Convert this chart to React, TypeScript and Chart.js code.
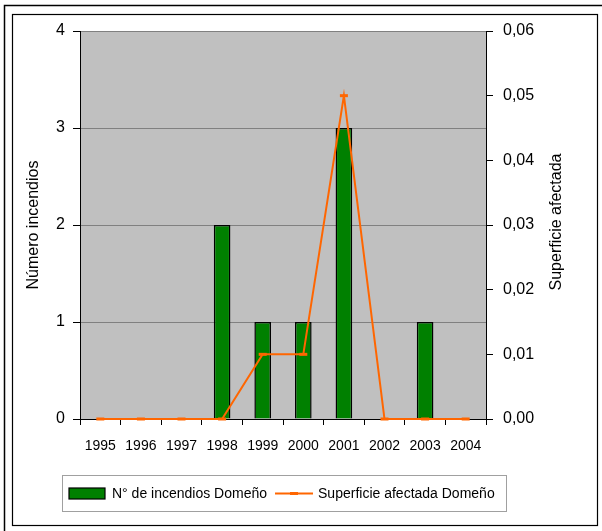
import React, { useEffect, useRef } from 'react';
import { Chart, registerables } from 'chart.js';

Chart.register(...registerables);

const years = ['1995', '1996', '1997', '1998', '1999', '2000', '2001', '2002', '2003', '2004'];
const fireCounts = [0, 0, 0, 2, 1, 1, 3, 0, 1, 0];
const burnedArea = [0, 0, 0, 0, 0.01, 0.01, 0.05, 0, 0, 0];
const leftMax = 4;
const leftStep = 1;
const rightMax = 0.06;
const rightStep = 0.01;
const barLabel = 'N° de incendios Domeño';
const lineLabel = 'Superficie afectada Domeño';
const leftTitle = 'Número incendios';
const rightTitle = 'Superficie afectada';

const FONT = '"Liberation Sans", Arial, sans-serif';
const GREEN = '#008000';
const ORANGE = '#FF6600';

const framePlugin = {
  id: 'framePlugin',
  beforeDraw(chart: any) {
    const { ctx, chartArea } = chart;
    ctx.save();
    ctx.fillStyle = '#FFFFFF';
    ctx.fillRect(0, 0, chart.width, chart.height);
    ctx.fillStyle = '#C0C0C0';
    ctx.fillRect(chartArea.left, chartArea.top, chartArea.right - chartArea.left, chartArea.bottom - chartArea.top);
    ctx.restore();
  },
  afterDraw(chart: any) {
    const { ctx, chartArea } = chart;
    ctx.save();
    // outer frame
    ctx.strokeStyle = '#000';
    ctx.lineWidth = 1.5;
    ctx.beginPath();
    ctx.moveTo(4.5, chart.height);
    ctx.lineTo(4.5, 5.5);
    ctx.lineTo(chart.width, 5.5);
    ctx.stroke();
    // inner frame
    ctx.lineWidth = 1.2;
    ctx.strokeRect(12.5, 14.5, 585, 511);

    // right axis title (reads upward)
    ctx.fillStyle = '#000';
    ctx.font = '16px ' + FONT;
    ctx.textAlign = 'center';
    ctx.textBaseline = 'middle';
    ctx.translate(557, (chartArea.top + chartArea.bottom) / 2 - 3);
    ctx.rotate(-Math.PI / 2);
    ctx.fillText(rightTitle, 0, 0);
    ctx.restore();

    // legend
    const ds = chart.data.datasets;
    ctx.save();
    const boxLeft = chartArea.left - 17.5;
    const boxTop = chartArea.bottom + 56.5;
    const boxW = 444;
    const boxH = 36;
    ctx.strokeStyle = '#A0A0A0';
    ctx.lineWidth = 1;
    ctx.strokeRect(boxLeft, boxTop, boxW, boxH);
    const cy = boxTop + boxH / 2;
    ctx.font = '14px ' + FONT;
    ctx.textBaseline = 'middle';
    ctx.textAlign = 'left';
    ctx.fillStyle = '#000';
    // bar swatch
    let x = boxLeft + 6.5;
    ctx.fillStyle = ds[0].backgroundColor;
    ctx.fillRect(x, cy - 5.5, 36, 11);
    ctx.strokeStyle = '#000';
    ctx.lineWidth = 1.2;
    ctx.strokeRect(x, cy - 5.5, 36, 11);
    x += 43;
    ctx.fillStyle = '#000';
    ctx.fillText(ds[0].label, x, cy + 1);
    x += ctx.measureText(ds[0].label).width + 8;
    // line swatch
    ctx.strokeStyle = ds[1].borderColor;
    ctx.lineWidth = 2;
    ctx.beginPath();
    ctx.moveTo(x, cy);
    ctx.lineTo(x + 38, cy);
    ctx.stroke();
    ctx.fillStyle = ds[1].borderColor;
    ctx.fillRect(x + 15, cy - 1.5, 8, 3);
    x += 43;
    ctx.fillStyle = '#000';
    ctx.fillText(ds[1].label, x, cy + 1);
    ctx.restore();
  },
};

export default function App() {
  const ref = useRef<HTMLCanvasElement | null>(null);

  useEffect(() => {
    if (!ref.current) return;
    Chart.defaults.font.family = FONT;
    const chart = new Chart(ref.current, {
      data: {
        labels: years,
        datasets: [
          {
            type: 'bar',
            label: barLabel,
            data: fireCounts,
            backgroundColor: GREEN,
            borderColor: '#000',
            borderWidth: 1.5,
            barPercentage: 0.41,
            categoryPercentage: 1,
            yAxisID: 'y',
            order: 2,
          },
          {
            type: 'line',
            label: lineLabel,
            data: burnedArea,
            borderColor: ORANGE,
            backgroundColor: ORANGE,
            borderWidth: 2,
            pointStyle: 'line',
            pointRadius: 4,
            pointBorderWidth: 3,
            pointBorderColor: ORANGE,
            pointBackgroundColor: ORANGE,
            tension: 0,
            yAxisID: 'y1',
            order: 1,
            clip: false,
          },
        ] as any,
      },
      options: {
        animation: false,
        responsive: false,
        maintainAspectRatio: false,
        layout: { padding: { left: 13, right: 5, top: 31, bottom: 62 } },
        plugins: { legend: { display: false }, tooltip: { enabled: false } },
        scales: {
          x: {
            offset: true,
            grid: { offset: true, drawOnChartArea: false, tickLength: 6, tickColor: '#000' },
            border: { color: '#000', width: 1 },
            ticks: { color: '#000', font: { size: 14 }, padding: 13, maxRotation: 0, autoSkip: false },
            afterFit: (s: any) => { s.height = 50; },
          },
          y: {
            position: 'left',
            min: 0,
            max: leftMax,
            ticks: { stepSize: leftStep, color: '#000', font: { size: 16 }, padding: 8 },
            grid: { color: '#808080', tickColor: '#000', tickLength: 7, lineWidth: 1 },
            border: { color: '#000', width: 1 },
            title: {
              display: true,
              text: leftTitle,
              color: '#000',
              font: { size: 16 },
              padding: { top: 11, bottom: 0 },
            },
            afterFit: (s: any) => { s.width = 67; },
          },
          y1: {
            position: 'right',
            min: 0,
            max: rightMax,
            ticks: {
              stepSize: rightStep,
              color: '#000',
              font: { size: 16 },
              padding: 10,
              callback: (v: any) => Number(v).toFixed(2).replace('.', ','),
            },
            grid: { drawOnChartArea: false, tickColor: '#000', tickLength: 7 },
            border: { color: '#000', width: 1 },
            afterFit: (s: any) => { s.width = 111; },
          },
        },
      } as any,
      plugins: [framePlugin],
    });
    return () => chart.destroy();
  }, []);

  return (
    <div style={{ position: 'absolute', left: 0, top: 0, width: 602, height: 531, background: '#fff' }}>
      <canvas ref={ref} width={602} height={531} style={{ width: 602, height: 531, display: 'block' }} />
    </div>
  );
}
